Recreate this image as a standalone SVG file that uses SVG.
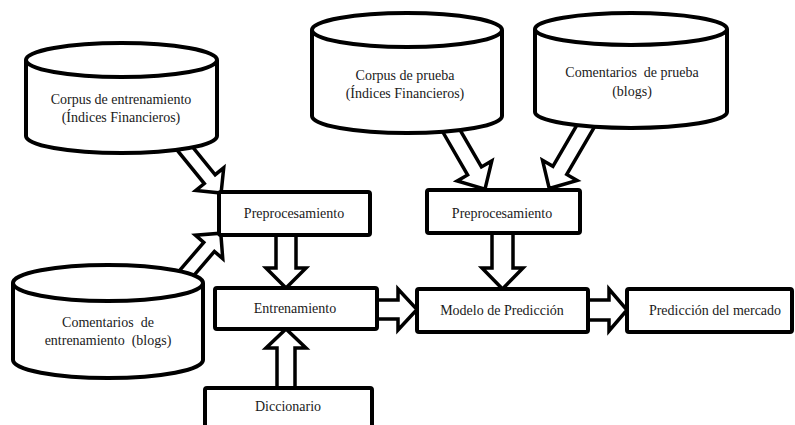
<svg xmlns="http://www.w3.org/2000/svg" width="795" height="425" viewBox="0 0 795 425">
<defs>
<style>
.arr{fill:#fff;stroke:#000;stroke-width:3.5;stroke-linejoin:miter}
.box{fill:#fff;stroke:#000;stroke-width:4}
.cyl{fill:#fff;stroke:#000;stroke-width:4}
.t{font-family:"Liberation Serif","Times New Roman",serif;font-size:14px;fill:#1a1a1a;text-anchor:middle}
</style>
</defs>
<rect width="795" height="425" fill="#fff"/>
<g id="connectors">
<path class="arr" transform="translate(182,145) rotate(50.9)" d="M0,-7 H44 V-18 L62,0 L44,18 V7 H0 Z"/>
<path class="arr" transform="translate(185,275) rotate(-49.4)" d="M0,-7 H37 V-18 L55,0 L37,18 V7 H0 Z"/>
<path class="arr" transform="translate(448,125) rotate(60)" d="M0,-8 H53 V-20 L74,0 L53,20 V8 H0 Z"/>
<path class="arr" transform="translate(588,122) rotate(120.2)" d="M0,-8 H56 V-20 L77,0 L56,20 V8 H0 Z"/>
<path class="arr" d="M276,235 V268 H266 L286,288 L306,268 H296 V235 Z"/>
<path class="arr" d="M277,388 V348 H266 L286,329 L306,348 H295 V388 Z"/>
<path class="arr" d="M492,233 V268 H482 L502.5,289 L523,268 H513 V233 Z"/>
<path class="arr" d="M377,300 H398 V289 L417,309.5 L398,330 V319 H377 Z"/>
<path class="arr" d="M588,300 H609 V289 L627,310 L609,331 V320 H588 Z"/>
</g>
<g id="cyl-corpus-entrenamiento">
<path class="cyl" d="M26,60 V136 A95.5,17 0 0 0 217,136 V60"/>
<ellipse class="cyl" cx="121.5" cy="60" rx="95.5" ry="17"/>
<text class="t" x="121" y="104">Corpus de entrenamiento</text>
<text class="t" x="121" y="122">(Índices Financieros)</text>
</g>
<g id="cyl-corpus-prueba">
<path class="cyl" d="M312,30 V116 A95,17 0 0 0 502,116 V30"/>
<ellipse class="cyl" cx="407" cy="30" rx="95" ry="17"/>
<text class="t" x="405" y="80">Corpus de prueba</text>
<text class="t" x="405" y="98">(Índices Financieros)</text>
</g>
<g id="cyl-comentarios-prueba">
<path class="cyl" d="M535,29 V112 A96,16 0 0 0 727,112 V29"/>
<ellipse class="cyl" cx="631" cy="29" rx="96" ry="16"/>
<text class="t" x="632" y="77" xml:space="preserve">Comentarios  de prueba</text>
<text class="t" x="632" y="96">(blogs)</text>
</g>
<g id="cyl-comentarios-entrenamiento">
<path class="cyl" d="M13,283 V360 A95,18 0 0 0 203,360 V283"/>
<ellipse class="cyl" cx="108" cy="283" rx="95" ry="18"/>
<text class="t" x="108" y="327" xml:space="preserve">Comentarios  de</text>
<text class="t" x="108" y="345" xml:space="preserve">entrenamiento  (blogs)</text>
</g>
<g id="preproc1">
<rect class="box" x="219" y="192" width="151" height="43" rx="2"/>
<text class="t" x="294" y="218">Preprocesamiento</text>
</g>
<g id="preproc2">
<rect class="box" x="427" y="190" width="153" height="43" rx="2"/>
<text class="t" x="502" y="218">Preprocesamiento</text>
</g>
<g id="entrenamiento">
<rect class="box" x="215" y="288" width="162" height="41" rx="2"/>
<text class="t" x="295" y="313">Entrenamiento</text>
</g>
<g id="diccionario">
<rect class="box" x="205" y="388" width="167" height="50" rx="2"/>
<text class="t" x="288" y="411">Diccionario</text>
</g>
<g id="modelo">
<rect class="box" x="417" y="289" width="171" height="43" rx="2"/>
<text class="t" x="502" y="315">Modelo de Predicción</text>
</g>
<g id="prediccion">
<rect class="box" x="627" y="289" width="165" height="43" rx="2"/>
<text class="t" x="715" y="315">Predicción del mercado</text>
</g>
</svg>
